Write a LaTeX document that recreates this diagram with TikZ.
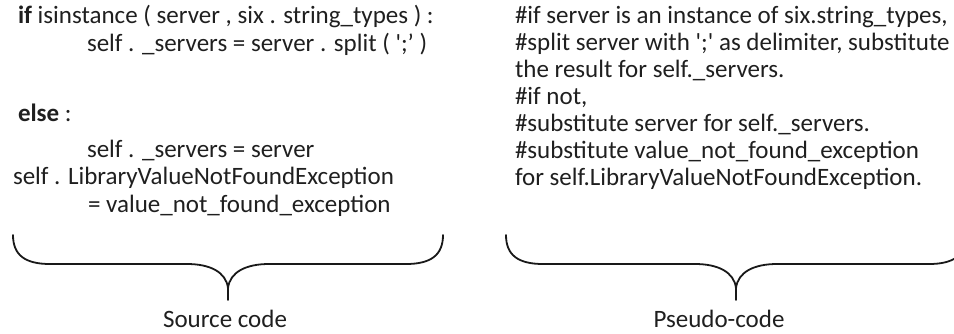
\documentclass[tikz,border=0pt]{standalone}
\usepackage{fontspec}
\setmainfont{Carlito}
\begin{document}
\begin{tikzpicture}[x=1pt,y=-1pt,
  txt/.style={anchor=base west,inner sep=0pt,outer sep=0pt,font=\fontsize{25}{30}\selectfont,text=black!88},
  lbl/.style={anchor=base,inner sep=0pt,outer sep=0pt,font=\fontsize{25}{30}\selectfont,text=black!88},
  bracestyle/.style={line width=1.8pt,black!90,line cap=round,line join=round}]
\useasboundingbox (0,0) rectangle (954,333);
% source code
\node[txt] (s1) at (18,23) {\textbf{if} isinstance ( server , six . string\_types ) :};
\node[txt] (s2) at (87,51) {self . \_servers = server . split ( \textquotesingle;’ )};
\node[txt] (s3) at (18,121) {\textbf{else} :};
\node[txt] (s4) at (87,157) {self . \_servers = server};
\node[txt] (s5) at (13,184) {self . LibraryValueNotFoundException};
\node[txt] (s6) at (88,212) {= value\_not\_found\_exception};
% pseudo code
\node[txt] (p1) at (515,23) {\#if server is an instance of six.string\_types,};
\node[txt] (p2) at (515,50) {\#split server with \textquotesingle;\textquotesingle{} as delimiter, substitute};
\node[txt] (p3) at (515,77) {the result for self.\_servers.};
\node[txt] (p4) at (515,104) {\#if not,};
\node[txt] (p5) at (515,131) {\#substitute server for self.\_servers.};
\node[txt] (p6) at (515,158) {\#substitute value\_not\_found\_exception};
\node[txt] (p7) at (515,185) {for self.LibraryValueNotFoundException.};
% braces
\draw[bracestyle] (13,235) .. controls (13,255) and (25,264) .. (50,264)
  -- (187,264) .. controls (210,264) and (226,272) .. (228,288) -- (228,300);
\draw[bracestyle] (443,235) .. controls (443,255) and (431,264) .. (406,264)
  -- (269,264) .. controls (246,264) and (230,272) .. (228,288);
\draw[bracestyle] (506,235) .. controls (506,255) and (518,264) .. (543,264)
  -- (695,264) .. controls (718,264) and (734,272) .. (736,288) -- (736,300);
\draw[bracestyle] (966,235) .. controls (966,255) and (954,264) .. (929,264)
  -- (777,264) .. controls (754,264) and (738,272) .. (736,288);
\node[lbl] (l1) at (225,327) {Source code};
\node[lbl] (l2) at (719,327) {Pseudo-code};
\end{tikzpicture}
\end{document}
